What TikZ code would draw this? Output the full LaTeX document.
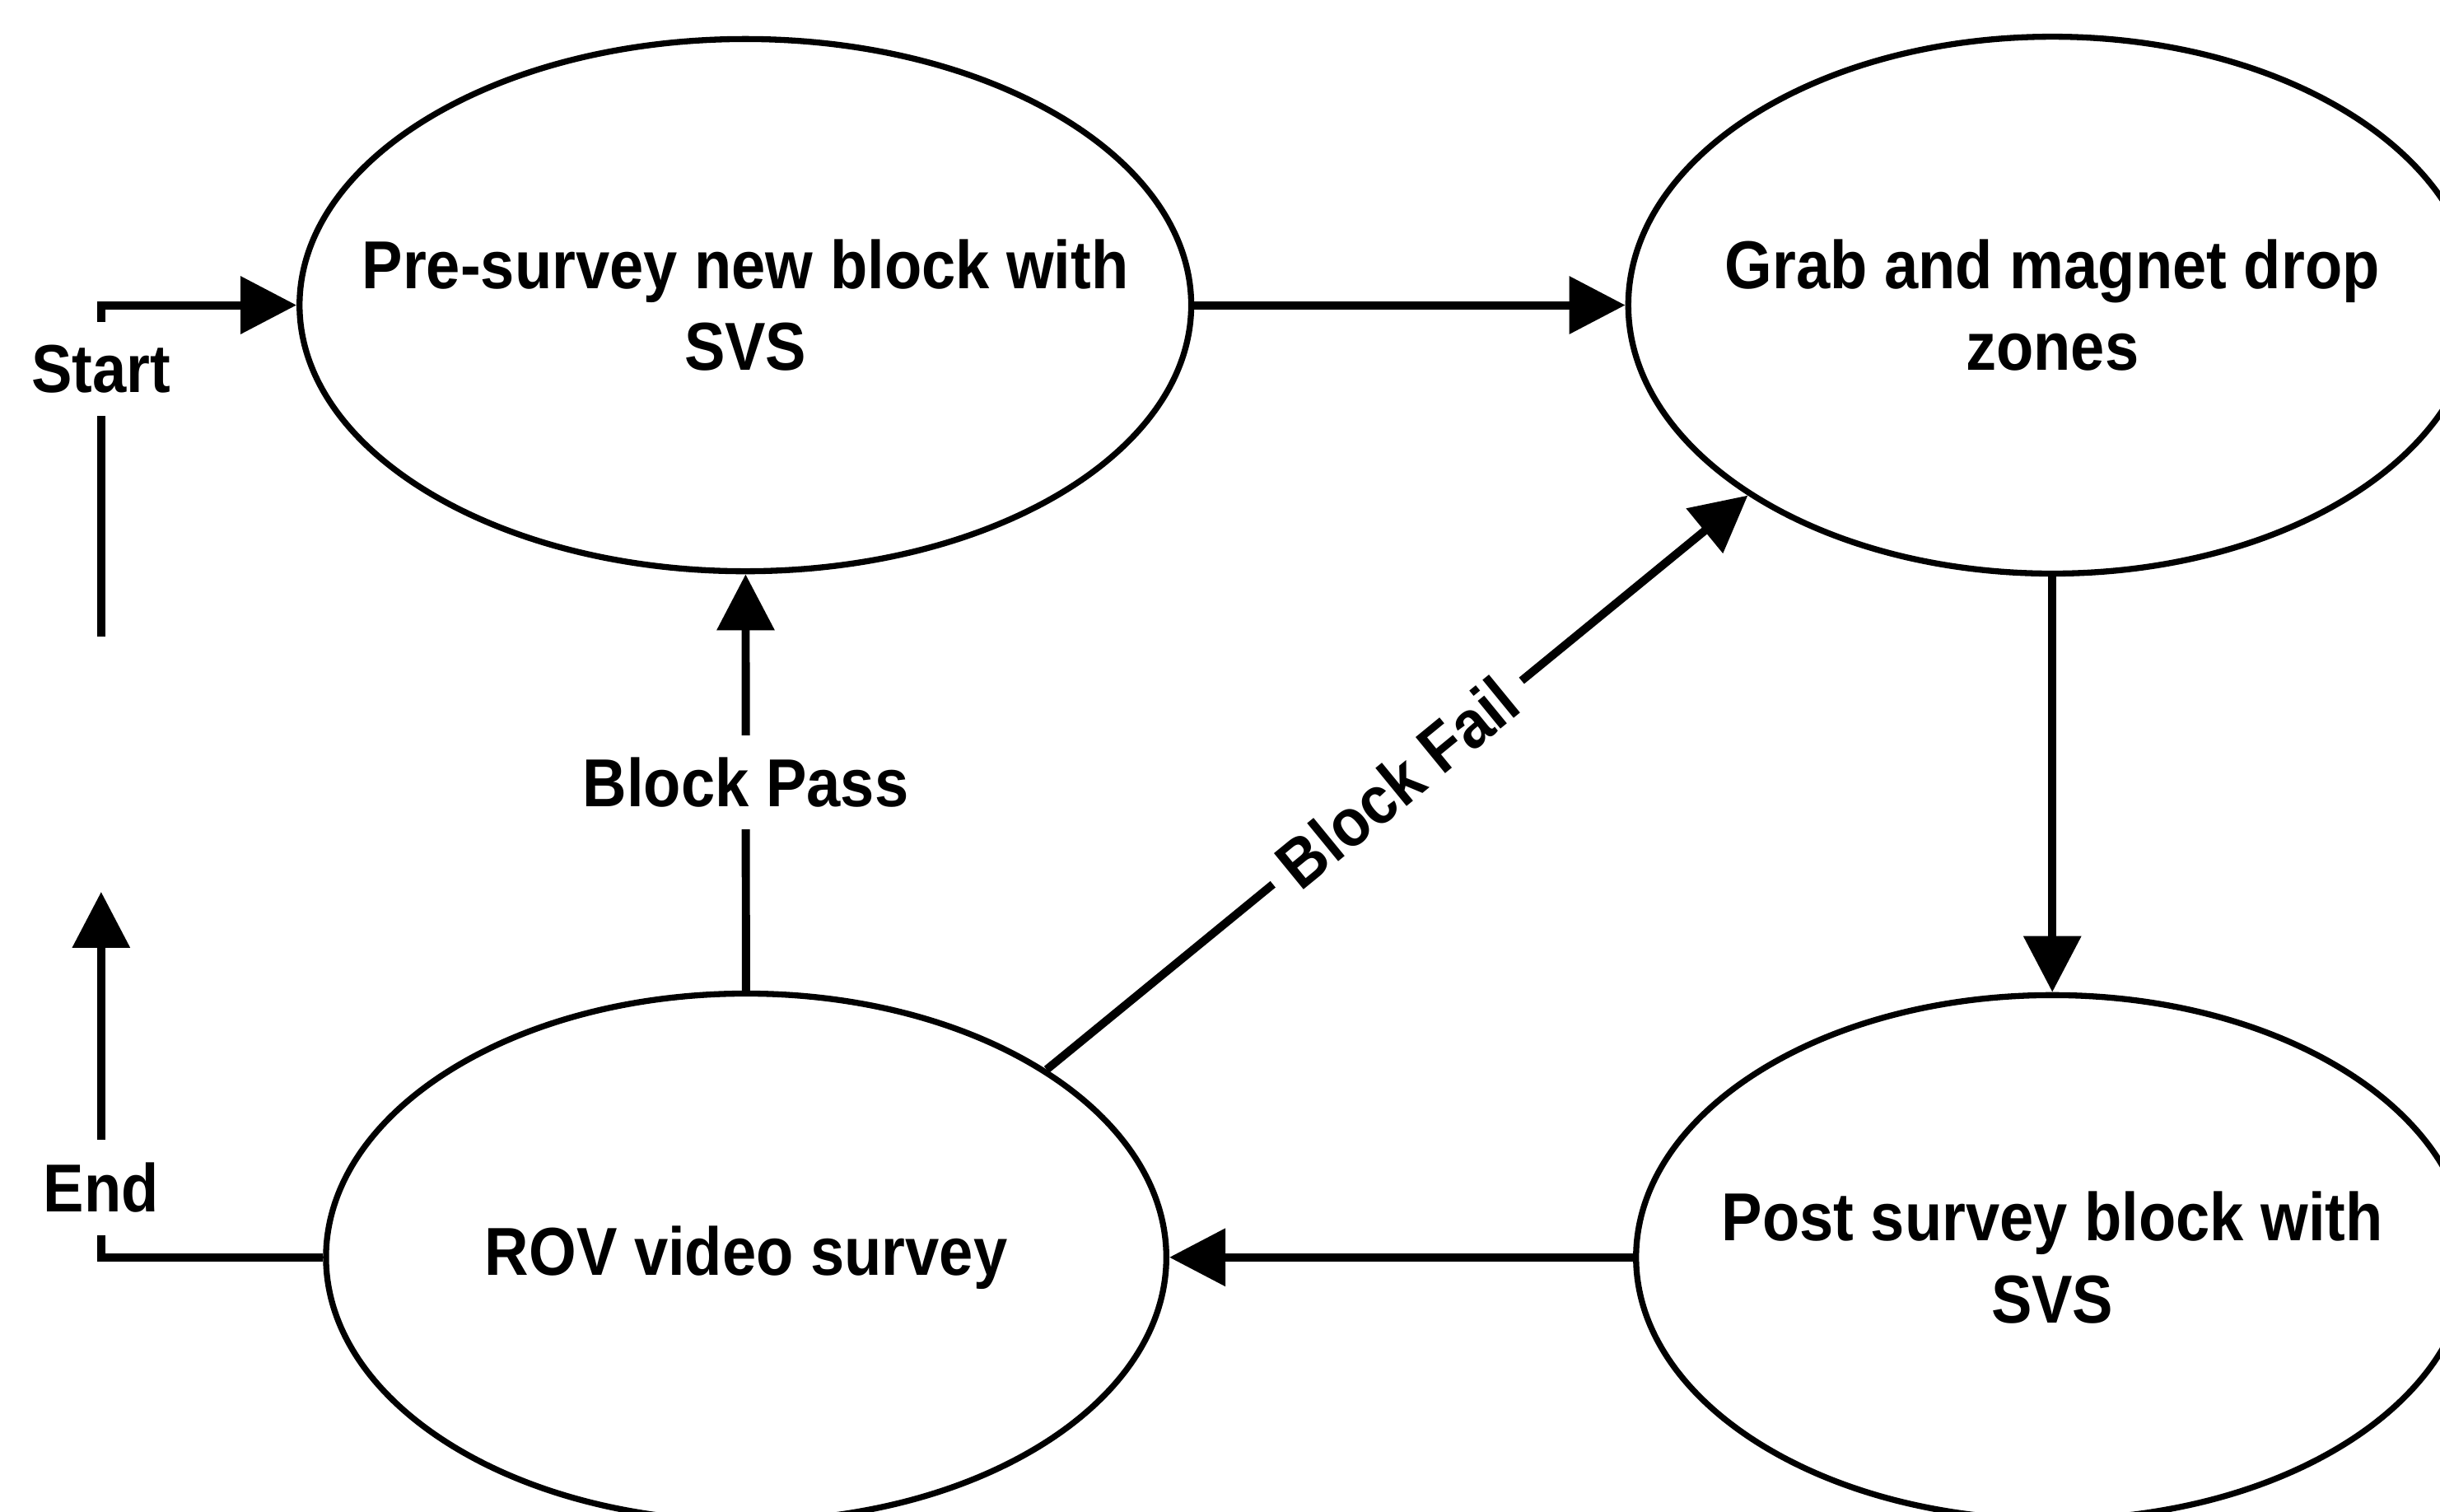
\documentclass[tikz,border=0pt]{standalone}
\usepackage{fontspec}
\setmainfont{Liberation Sans}[FakeStretch=0.9]
\usetikzlibrary{shapes.geometric, arrows.meta, positioning}

\begin{document}
\begin{tikzpicture}[
  font=\bfseries\fontsize{12.4}{15}\selectfont,
  stage/.style={ellipse, draw, line width=1.1pt, inner sep=0pt},
  stagetext/.style={align=center},
  lbl/.style={fill=white, inner xsep=3pt, inner ysep=4pt},
  link/.style={line width=1.5pt},
  arrow/.style={-{Triangle[length=3.6mm, width=3.6mm]}, line width=1.5pt}
]
\useasboundingbox (0,0) rectangle (15.68,9.711);
\clip (0,0) rectangle (15.68,9.711);

\node[stage, minimum width=5.73cm, minimum height=3.42cm] (pre) at (4.79,7.75) {};
\node[stage, minimum width=5.45cm, minimum height=3.45cm, right=27.7mm of pre] (grab) {};
\node[stage, minimum width=5.35cm, minimum height=3.37cm, below=26.7mm of grab] (post) {};
\node[stage, minimum width=5.40cm, minimum height=3.39cm, left=29.8mm of post] (rov) {};

\node[stagetext] (pretext) at (pre) {Pre-survey new block with\\SVS};
\node[stagetext] (grabtext) at (grab) {Grab and magnet drop\\zones};
\node[stagetext] (posttext) at (post) {Post survey block with\\SVS};
\node[stagetext] (rovtext) at (rov) {ROV video survey};

% start and end of the loop
\node[lbl] (startlbl) at (0.65,7.34) {Start};
\coordinate (startfoot) at (0.65,5.62);
\node[lbl] (endlbl) at (0.65,2.08) {End};
\coordinate (endtip) at (0.65,3.98);

\draw[link] (startfoot) -- (startlbl);
\draw[arrow] (startlbl) |- (pre);
\draw[link] (rov) -| (endlbl);
\draw[arrow] (endlbl) -- (endtip);

\draw[arrow] (pre) -- (grab);
\draw[arrow] (grab) -- (post);
\draw[arrow] (post) -- (rov);
\draw[arrow] (rov) -- node[lbl] {Block Pass} (pre);
\draw[arrow] (rov.32) -- node[lbl, sloped] {Block Fail} (grab.212);

\end{tikzpicture}
\end{document}
